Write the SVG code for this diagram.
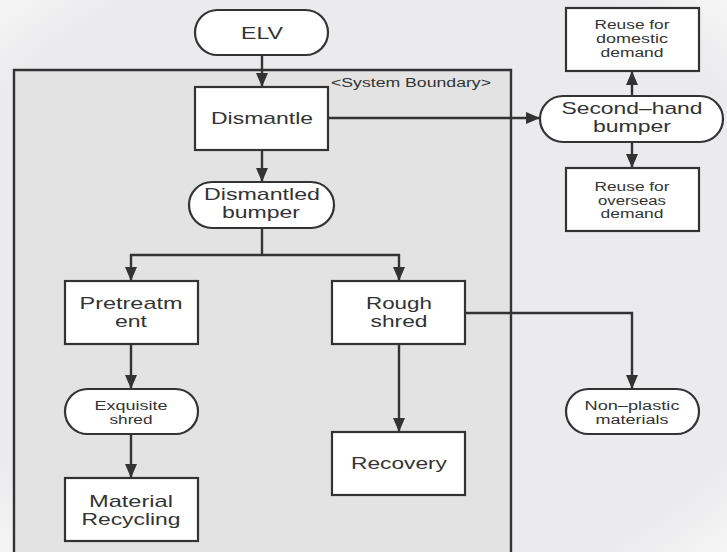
<svg xmlns="http://www.w3.org/2000/svg" width="727" height="552" viewBox="0 0 727 552">
<defs>
<marker id="ah" viewBox="0 0 14 12" refX="14" refY="6" markerWidth="14" markerHeight="12" markerUnits="userSpaceOnUse" orient="auto">
<path d="M0,0 L14,6 L0,12 Z" fill="#333"/>
</marker>
<radialGradient id="bg" cx="50%" cy="50%" r="75%">
<stop offset="0.8" stop-color="#ebebed"/>
<stop offset="1" stop-color="#fafafa"/>
</radialGradient>
</defs>
<style>
.box{fill:#fff;stroke:#333;stroke-width:2.2}
.t{font-family:"Liberation Sans",Arial,sans-serif;fill:#333;text-anchor:middle}
.L{font-size:17px}
.S{font-size:12.5px}
.c{fill:none;stroke:#333;stroke-width:2.4}
.ca{fill:none;stroke:#333;stroke-width:2.4;marker-end:url(#ah)}
</style>
<rect x="0" y="0" width="727" height="552" fill="url(#bg)"/>
<g id="boundary">
<path d="M14,552 V70 H511 V552" fill="#e3e3e3" stroke="#333" stroke-width="2.4"/>
<text class="t S" x="411" y="87" textLength="160" lengthAdjust="spacingAndGlyphs">&lt;System Boundary&gt;</text>
</g>
<g id="connectors">
<path class="ca" d="M262,55 V87"/>
<path class="ca" d="M262,150 V182"/>
<path class="c" d="M262,228 V255"/>
<path class="c" d="M130,255 H400"/>
<path class="ca" d="M131,254 V281"/>
<path class="ca" d="M399,254 V281"/>
<path class="ca" d="M328,118 H540"/>
<path class="ca" d="M632,96 V71"/>
<path class="ca" d="M632,142 V168"/>
<path class="ca" d="M131,344 V389"/>
<path class="ca" d="M131,434 V478"/>
<path class="ca" d="M399,344 V432"/>
<path class="ca" d="M465,313 H632 V389"/>
</g>
<g id="elv">
<rect class="box" x="195" y="10" width="133" height="45" rx="22.5"/>
<text class="t L" x="262" y="39" textLength="42" lengthAdjust="spacingAndGlyphs">ELV</text>
</g>
<g id="dismantle">
<rect class="box" x="195" y="87" width="133" height="63"/>
<text class="t L" x="262" y="124" textLength="102" lengthAdjust="spacingAndGlyphs">Dismantle</text>
</g>
<g id="dismantled-bumper">
<rect class="box" x="189" y="182" width="145" height="46" rx="23"/>
<text class="t L" x="262" y="199.5" textLength="116" lengthAdjust="spacingAndGlyphs">Dismantled</text>
<text class="t L" x="261" y="218" textLength="78" lengthAdjust="spacingAndGlyphs">bumper</text>
</g>
<g id="second-hand">
<rect class="box" x="540" y="96" width="183" height="46" rx="23"/>
<text class="t L" x="632" y="114" textLength="141" lengthAdjust="spacingAndGlyphs">Second–hand</text>
<text class="t L" x="632" y="132" textLength="78" lengthAdjust="spacingAndGlyphs">bumper</text>
</g>
<g id="reuse-domestic">
<rect class="box" x="566" y="8" width="133" height="63"/>
<text class="t S" x="632" y="29" textLength="75" lengthAdjust="spacingAndGlyphs">Reuse for</text>
<text class="t S" x="632" y="43" textLength="72" lengthAdjust="spacingAndGlyphs">domestic</text>
<text class="t S" x="632" y="57" textLength="63" lengthAdjust="spacingAndGlyphs">demand</text>
</g>
<g id="reuse-overseas">
<rect class="box" x="566" y="168" width="133" height="63"/>
<text class="t S" x="632" y="191" textLength="75" lengthAdjust="spacingAndGlyphs">Reuse for</text>
<text class="t S" x="632" y="204.5" textLength="68" lengthAdjust="spacingAndGlyphs">overseas</text>
<text class="t S" x="632" y="218" textLength="63" lengthAdjust="spacingAndGlyphs">demand</text>
</g>
<g id="pretreatment">
<rect class="box" x="65" y="281" width="133" height="63"/>
<text class="t L" x="131" y="309" textLength="103" lengthAdjust="spacingAndGlyphs">Pretreatm</text>
<text class="t L" x="131" y="327" textLength="32" lengthAdjust="spacingAndGlyphs">ent</text>
</g>
<g id="rough-shred">
<rect class="box" x="332" y="281" width="133" height="63"/>
<text class="t L" x="399" y="309" textLength="66" lengthAdjust="spacingAndGlyphs">Rough</text>
<text class="t L" x="399" y="327" textLength="57" lengthAdjust="spacingAndGlyphs">shred</text>
</g>
<g id="exquisite-shred">
<rect class="box" x="65" y="389" width="133" height="45" rx="22.5"/>
<text class="t S" x="131" y="410" textLength="73" lengthAdjust="spacingAndGlyphs">Exquisite</text>
<text class="t S" x="131" y="424" textLength="43" lengthAdjust="spacingAndGlyphs">shred</text>
</g>
<g id="material-recycling">
<rect class="box" x="65" y="478" width="133" height="63"/>
<text class="t L" x="131" y="507" textLength="84" lengthAdjust="spacingAndGlyphs">Material</text>
<text class="t L" x="131" y="525" textLength="99" lengthAdjust="spacingAndGlyphs">Recycling</text>
</g>
<g id="recovery">
<rect class="box" x="332" y="432" width="133" height="63"/>
<text class="t L" x="399" y="469" textLength="96" lengthAdjust="spacingAndGlyphs">Recovery</text>
</g>
<g id="non-plastic">
<rect class="box" x="566" y="389" width="133" height="45" rx="22.5"/>
<text class="t S" x="632" y="410" textLength="95" lengthAdjust="spacingAndGlyphs">Non–plastic</text>
<text class="t S" x="632" y="424" textLength="73" lengthAdjust="spacingAndGlyphs">materials</text>
</g>
</svg>
